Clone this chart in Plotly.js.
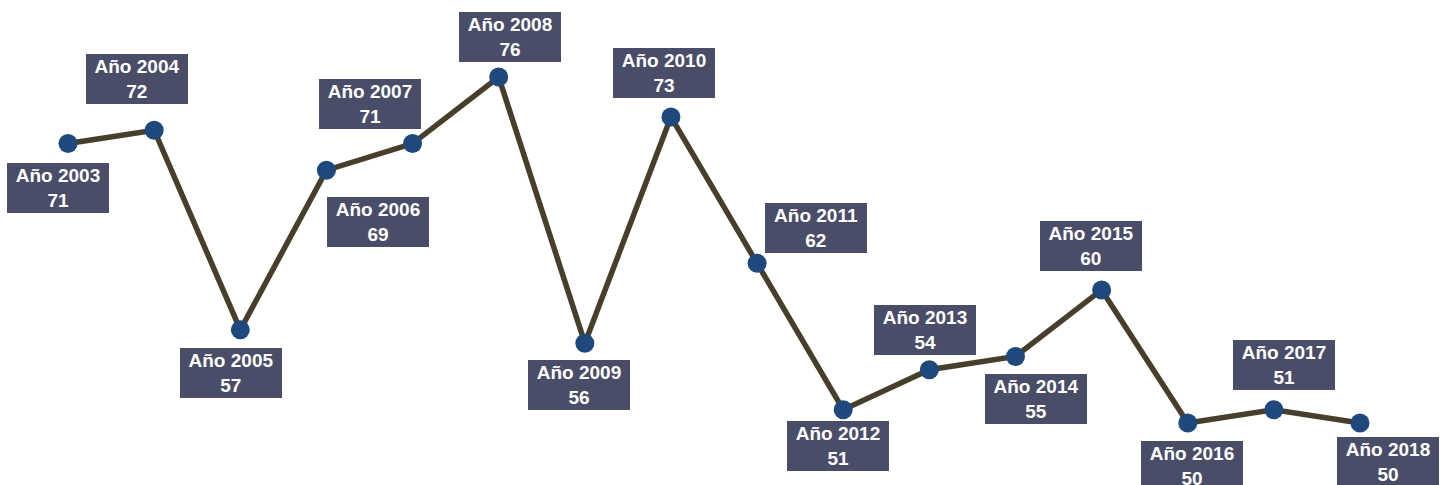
<!DOCTYPE html>
<html>
<head>
<meta charset="utf-8">
<script src="https://cdn.plot.ly/plotly-3.0.1.min.js"></script>
<style>html,body{margin:0;padding:0;background:#fff;}#chart{width:1447px;height:485px;}</style>
</head>
<body>
<div id="chart"></div>
<script>
const years = [2003,2004,2005,2006,2007,2008,2009,2010,2011,2012,2013,2014,2015,2016,2017,2018];
const values = [71,72,57,69,71,76,56,73,62,51,54,55,60,50,51,50];
// label offsets in pixels (dx right, dy down) relative to each point
const labelDx = [-10,-17,-9,52,-43,11,-6,-7,59,-5,-4,21,-11,4,10,28];
const labelDy = [44,-51,43,52,-40,-40,42,-44,-35,36,-40,43,-44,43,-45,39];

const trace = {
  x: years, y: values, type: 'scatter', mode: 'lines+markers',
  line: {color: '#473f2b', width: 5.5},
  marker: {color: '#1f497d', size: 19},
  hoverinfo: 'none'
};

const annotations = years.map((yr, i) => ({
  x: yr, y: values[i], xref: 'x', yref: 'y',
  text: '<b>Año ' + yr + '</b><br><b>' + values[i] + '</b>',
  showarrow: false,
  xshift: labelDx[i], yshift: -labelDy[i],
  bgcolor: '#4a4d68', borderwidth: 0, borderpad: 0,
  width: 102, height: 50,
  font: {family: 'Liberation Sans, Arial, sans-serif', size: 19, color: '#ffffff'},
  align: 'center', valign: 'middle'
}));

const layout = {
  width: 1447, height: 485,
  margin: {l: 0, r: 0, t: 0, b: 0},
  paper_bgcolor: '#ffffff', plot_bgcolor: '#ffffff',
  showlegend: false,
  xaxis: {range: [2002.21, 2019.01], visible: false, fixedrange: true},
  yaxis: {range: [45.34, 81.79], visible: false, fixedrange: true},
  annotations: annotations
};

Plotly.newPlot('chart', [trace], layout, {displayModeBar: false, staticPlot: true});
</script>
</body>
</html>
